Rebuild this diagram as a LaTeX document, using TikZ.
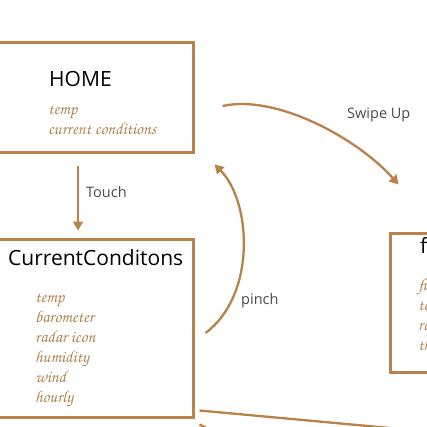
\documentclass[tikz,border=0pt]{standalone}
\usepackage[T1]{fontenc}
\usepackage{fontspec}
\setsansfont{Open Sans}
\usetikzlibrary{arrows.meta,positioning}
\definecolor{cB}{HTML}{B8824A}
\definecolor{cI}{HTML}{B5844E}
\definecolor{cG}{HTML}{4A4A4A}
\newcommand{\handface}{\fontencoding{T1}\fontfamily{pzc}\fontseries{mb}\fontshape{it}\selectfont}
\tikzset{
  screen/.style={draw=cB,line width=3pt,fill=none,inner sep=0pt},
  title/.style={anchor=base west,inner sep=0pt,font=\sffamily\fontsize{21}{24}\selectfont,text=black},
  item/.style={anchor=base west,inner sep=0pt,font=\handface\fontsize{17}{19}\selectfont,text=cI},
  gesture/.style={anchor=base west,inner sep=0pt,font=\sffamily\fontsize{14.5}{17}\selectfont,text=cG},
  flow/.style={-{Triangle[length=9pt,width=10pt]},line width=2.3pt,cB},
  link/.style={line width=2.3pt,cB},
}

\begin{document}
\begin{tikzpicture}[x=1pt,y=-1pt]
  \useasboundingbox (0,0) rectangle (427,427);
  \clip (0,0) rectangle (427,427);

  % screens
  \node[screen,minimum width=213pt,minimum height=110pt] (home) at (86.5,98) {};
  \node[screen,minimum width=213pt,minimum height=178pt] (cur) at (86.5,328) {};
  \node[screen,minimum width=130pt,minimum height=139pt] (fc) at (455,302.5) {};

  \node[title] (homeT) at (49,87) {HOME};
  \foreach \t [count=\i from 0] in {temp,current conditions}
     \node[item] (homeI\i) at (48,115+\i*20) {\t};

  \node[title] (curT) at (8,265) {CurrentConditons};
  \foreach \t [count=\i from 0] in {temp,barometer,radar icon,humidity,wind,hourly}
     \node[item] (curI\i) at (35,302+\i*20) {\t};

  \node[title] (fcT) at (420,253) {forecast};
  \foreach \t [count=\i from 0] in {fiveday,temp,rain,thunder}
     \node[item] (fcI\i) at (418,290+\i*20) {\t};

  % gestures
  \draw[flow,shorten <=12pt,shorten >=7pt]
     ([xshift=-8.5pt]home.south) -- ([xshift=-8.5pt]cur.north);
  \node[gesture] (touch) at (86,197) {Touch};

  \draw[flow] ([xshift=28pt,yshift=-8pt]home.east)
     .. controls +(55,-12) and +(-40,-45) .. ([xshift=10pt,yshift=47pt]fc.north west);
  \node[gesture] (swipe) at (347,119) {Swipe Up};

  \draw[flow] ([xshift=11pt,yshift=-5pt]cur.east)
     .. controls +(51,-38) and +(37,37) .. ([xshift=20pt,yshift=-10pt]home.south east);
  \node[gesture] (pinch) at (241,304) {pinch};

  % off to the next screens
  \coordinate (outA) at (520,440);
  \coordinate (outB) at (250,450);
  \draw[link] ([xshift=5pt,yshift=8pt]cur.south east) -- (outA);
  \draw[link] ([xshift=5pt,yshift=-6pt]cur.south east) -- (outB);
\end{tikzpicture}
\end{document}
